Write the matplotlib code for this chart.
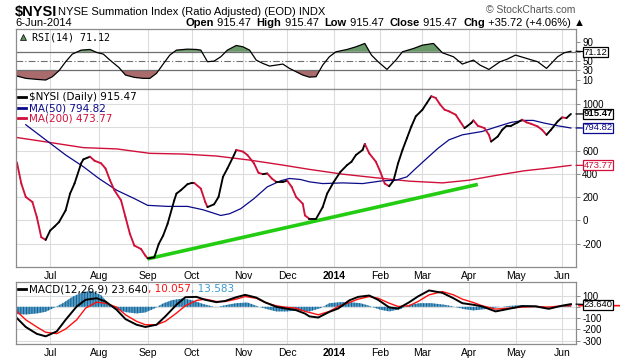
import numpy as np
import pandas as pd
import matplotlib
matplotlib.use("Agg")
import matplotlib.pyplot as plt
from matplotlib.collections import LineCollection

# trading calendar (sessions since 2013-06-10)
holidays = ["2013-07-04", "2013-09-02", "2013-11-28", "2013-12-25", "2014-01-01",
            "2014-01-20", "2014-02-17", "2014-04-18", "2014-05-26"]
sessions = pd.bdate_range("2013-06-10", "2014-06-06", freq="C", holidays=holidays)

# $NYSI daily values (session number, value)
nysi_day = [0, 2, 4, 7, 9, 11, 13, 15, 17, 19, 22, 24, 26, 29, 30, 33, 35, 38, 40, 42,
            44, 47, 49, 51, 53, 56, 58, 59, 62, 64, 66, 68, 71, 72, 74, 77, 79, 80, 83, 85,
            86, 89, 91, 93, 95, 98, 99, 102, 104, 107, 109, 111, 113, 115, 117, 120, 122, 124, 126, 129,
            130, 132, 135, 138, 140, 143, 146, 149, 151, 153, 156, 157, 159, 162, 164, 166, 168, 170, 172, 174,
            176, 178, 180, 183, 185, 187, 189, 191, 193, 195, 198, 200, 202, 205, 206, 208, 211, 213, 214, 217,
            219, 221, 223, 226, 228, 230, 232, 235, 237, 239, 241, 244, 246, 248, 250]
nysi_val = [499, 317, 202, 159, 29, -144, -167, -87, -52, -14, 87, 231, 317, 491, 525, 548, 514, 491, 447, 346,
            260, 173, 29, -115, -216, -245, -303, -326, -317, -202, -130, -29, 173, 231, 260, 312, 323, 323, 274, 159,
            115, 139, 202, 375, 447, 563, 606, 592, 563, 491, 410, 398, 404, 361, 332, 332, 341, 289, 202, 144,
            43, 14, 14, 115, 231, 332, 418, 476, 505, 563, 606, 658, 577, 505, 418, 317, 294, 346, 491, 606,
            707, 808, 895, 952, 1010, 1068, 1053, 996, 952, 938, 909, 851, 794, 837, 860, 814, 794, 736, 678, 722,
            779, 814, 814, 843, 866, 843, 831, 808, 779, 736, 779, 851, 886, 880, 915.47]

ma50_day = [4, 15, 22, 30, 37, 45, 53, 59, 68, 77, 84, 92, 96, 101, 107, 113, 119, 123, 128, 132,
            138, 147, 156, 165, 171, 176, 180, 185, 190, 195, 201, 210, 217, 223, 229, 233, 238, 244, 250]
ma50_val = [823, 664, 563, 462, 361, 260, 188, 130, 121, 121, 92, 43, 58, 101, 188, 289, 341, 361, 352, 332,
            317, 323, 317, 341, 346, 375, 447, 534, 620, 693, 736, 765, 808, 843, 860, 860, 837, 814, 794.82]

ma200_day = [0, 15, 30, 45, 60, 75, 90, 105, 120, 132, 147, 162, 177, 192, 204, 217, 229, 241, 250]
ma200_val = [713, 670, 626, 615, 577, 571, 554, 519, 476, 439, 398, 367, 338, 323, 346, 390, 427, 452, 473.77]

trend_day = [59, 208]
trend_val = [-330, 310]

rsi_day = [0, 4, 9, 13, 16, 19, 22, 25, 29, 33, 36, 39, 42, 46, 49, 53, 57, 60, 63, 66,
           69, 72, 77, 81, 83, 86, 89, 92, 95, 99, 102, 105, 108, 111, 114, 117, 120, 123, 126, 129,
           132, 135, 138, 141, 144, 149, 153, 157, 160, 163, 167, 171, 174, 179, 183, 188, 192, 197, 201, 206,
           209, 213, 218, 221, 225, 230, 235, 239, 244, 247, 250]
rsi_val = [17.9, 12.9, 10.7, 9.3, 16.4, 29.3, 48.6, 65, 73.6, 75, 68.6, 65, 52.1, 36.4, 20, 15, 12.9, 12.9, 23.6, 43.6,
           62.9, 73.6, 75.7, 75, 73.6, 48.6, 50, 59.3, 73.6, 83.6, 80.7, 73.6, 52.1, 45, 39.3, 41.4, 43.6, 34.3, 27.1, 20,
           15.5, 16.4, 41.4, 59.3, 70, 75, 80.7, 87.9, 62.9, 48.6, 32.1, 52.1, 70, 77.1, 84.3, 87.9, 67.9, 59.3, 43.6, 52.1,
           41.4, 32.1, 48.6, 53.6, 62.9, 55.7, 48.6, 34.3, 59.3, 67.9, 71.12]

macd_day = [0, 4, 9, 13, 18, 22, 27, 31, 36, 40, 45, 49, 54, 58, 63, 67, 72, 76, 81, 85,
            90, 94, 99, 103, 108, 112, 117, 121, 126, 130, 132, 136, 141, 145, 150, 154, 159, 163, 168, 172,
            177, 181, 186, 192, 197, 201, 206, 210, 216, 222, 228, 234, 240, 246, 250]
macd_val = [-100, -179, -240, -262, -218, -115, 3, 62, 76, 47, -26, -109, -159, -179, -159, -85, 18, 85, 88, 62,
            41, 52, 85, 106, 82, 40, 0, -14, -30, -60, -85, -95, -45, -15, 57, 88, 100, 62, -5, -16,
            40, 92, 145, 124, 76, 32, 18, 3, -41, -18, 6, 4, -18, 10, 23.64]
signal_val = [-41, -115, -179, -226, -238, -197, -115, -12, 41, 32, -3, -71, -129, -159, -159, -129, -56, 9, 56, 68,
              47, 47, 68, 91, 76, 38, 9, -3, -12, -41, -50, -71, -41, 3, 38, 68, 91, 76, 32, 3,
              9, 47, 106, 135, 106, 68, 38, 9, -21, -12, -3, 3, -3, 9, 10.057]

hist_day = [0, 4, 9, 13, 17, 21, 25, 30, 34, 38, 42, 45, 49, 54, 58, 62, 66, 70, 75, 79,
            84, 88, 90, 95, 99, 104, 108, 113, 117, 122, 126, 132, 137, 141, 146, 150, 155, 159, 164, 168,
            173, 177, 182, 187, 193, 197, 202, 206, 211, 217, 223, 229, 235, 241, 247, 250]
hist_val = [-65, -68, -59, -44, -6, 35, 88, 133, 139, 103, 15, -24, -47, -59, -50, -15, 30, 59, 74, 59,
            25, 5, -3, 18, 32, 38, 9, -21, -41, -41, -32, -41, -12, 32, 41, 41, 32, 9, -26, -41,
            -21, 18, 32, 32, 18, 3, -21, -32, -21, -3, 9, 15, 9, -6, 15, 13.583]

# month ticks
per = sessions.to_period("M")
first = np.r_[True, per[1:] != per[:-1]]
tick_days = np.flatnonzero(first)[1:]
tick_labels = ["2014" if sessions[d].month == 1 else sessions[d].strftime("%b") for d in tick_days]

RED = "#d0103a"
NAVY = "#0a0a8a"
GRID = "#dcdcdc"
EDGE = "#8c8c8c"
SANS = ["Liberation Sans", "DejaVu Sans"]

fig = plt.figure(figsize=(6.2, 3.6), dpi=100)
W, H = 620, 360

def add_panel(top, bottom):
    ax = fig.add_axes([16 / W, 1 - bottom / H, 560 / W, (bottom - top) / H])
    ax.set_xlim(-0.4, 252.3)
    for s in ax.spines.values():
        s.set_color(EDGE)
        s.set_linewidth(0.9)
    ax.set_xticks(tick_days)
    ax.grid(axis="x", color=GRID, lw=0.8)
    ax.yaxis.tick_right()
    ax.tick_params(axis="y", length=3, width=0.7, color=EDGE, pad=1.5, labelsize=7)
    ax.tick_params(axis="x", length=0, pad=3, labelsize=7.5)
    ax.set_axisbelow(True)
    return ax

def y_labels(ax, ticks, shown):
    ax.set_yticks(ticks)
    ax.set_yticklabels([str(t) if t in shown else "" for t in ticks], family=SANS)

def month_labels(ax):
    ax.set_xticklabels(tick_labels, family=SANS)
    for lab in ax.get_xticklabels():
        if lab.get_text() == "2014":
            lab.set_fontweight("bold")

def tag(ax, y, text, color, bold=False, dy=0):
    ax.annotate(text, xy=(1, y), xycoords=("axes fraction", "data"),
                xytext=(5.5, dy), textcoords="offset points", ha="left", va="center",
                fontsize=6.8, family=SANS, color=color, fontweight="bold" if bold else "normal",
                bbox=dict(boxstyle="square,pad=0.05", fc="white", ec=color, lw=0.9),
                arrowprops=dict(arrowstyle="-", color=color, lw=0.9, shrinkA=0, shrinkB=0),
                annotation_clip=False, zorder=20)

def run_text(ax, x, y, pieces, size, family, transform=None):
    r = fig.canvas.get_renderer()
    tr = transform or ax.transAxes
    px, py = tr.transform((x, y))
    for txt, col, wt in pieces:
        t = fig.text(px / fig.bbox.width, py / fig.bbox.height, txt, color=col, fontweight=wt,
                     fontsize=size, family=family, va="center", ha="left")
        px += t.get_window_extent(r).width

# ---- RSI panel
ax_rsi = add_panel(29, 89)
ax_rsi.set_ylim(-10, 119)
y_labels(ax_rsi, [10, 30, 50, 70, 90], [10, 30, 50, 90])
ax_rsi.set_xticklabels([])
r_d = np.array(rsi_day)
r_v = np.array(rsi_val)
ax_rsi.fill_between(r_d, r_v, 70, where=r_v > 70, interpolate=True, color="#6a9a6a", lw=0)
ax_rsi.fill_between(r_d, r_v, 30, where=r_v < 30, interpolate=True, color="#a96b6b", lw=0)
ax_rsi.axhline(70, color="#6e6e6e", lw=0.9)
ax_rsi.axhline(30, color="#6e6e6e", lw=0.9)
ax_rsi.axhline(50, color="#6e6e6e", lw=0.8, ls=(0, (6, 2, 1, 2)))
ax_rsi.plot(r_d, r_v, color="black", lw=0.9)
tag(ax_rsi, 71.12, "71.12", "black", dy=-0.6)
ax_rsi.plot([0.012], [0.86], marker="^", ms=5, color="#5c8f5c", mec="black", mew=0.5,
            transform=ax_rsi.transAxes, clip_on=False)
ax_rsi.text(0.028, 0.86, "RSI(14) 71.12", transform=ax_rsi.transAxes, va="center",
            fontsize=7.2, family="DejaVu Sans Mono")

# ---- main panel
ax = add_panel(89, 267)
ax.set_ylim(-400, 1130)
y_labels(ax, list(range(-200, 1001, 200)), [-200, 0, 200, 400, 600, 1000])
ax.grid(axis="y", color=GRID, lw=0.8)
month_labels(ax)
ax.plot(ma200_day, ma200_val, color=RED, lw=1.0)
ax.plot(ma50_day, ma50_val, color=NAVY, lw=0.9)
ax.plot(trend_day, trend_val, color="#22cc11", lw=2.6, solid_capstyle="butt")
pts = np.column_stack([nysi_day, nysi_val])
segs = np.stack([pts[:-1], pts[1:]], axis=1)
cols = ["black" if b >= a else RED for a, b in zip(nysi_val[:-1], nysi_val[1:])]
ax.add_collection(LineCollection(segs, colors=cols, lw=1.35, capstyle="round", joinstyle="round"))
tag(ax, 915.47, "915.47", "black", bold=True)
tag(ax, 794.82, "794.82", NAVY)
tag(ax, 473.77, "473.77", RED)

legend_rows = [("$NYSI (Daily) 915.47", "black", 0.953),
               ("MA(50) 794.82", NAVY, 0.893),
               ("MA(200) 473.77", RED, 0.835)]
for txt, col, yy in legend_rows:
    ax.plot([0.004, 0.017], [yy, yy], color=col, lw=2, transform=ax.transAxes, clip_on=False)
    ax.text(0.024, yy, txt, transform=ax.transAxes, va="center", fontsize=7.5, color=col)

# ---- MACD panel
ax_m = add_panel(282, 344)
ax_m.set_ylim(-330, 220)
y_labels(ax_m, [100, 0, -100, -200, -300], [100, -100, -200, -300])
ax_m.grid(axis="y", color=GRID, lw=0.8)
month_labels(ax_m)
plt.rcParams["hatch.color"] = "#1c5478"
plt.rcParams["hatch.linewidth"] = 0.6
ax_m.fill_between(hist_day, hist_val, 0, facecolor="#4b9ccb", edgecolor="#1c5478",
                  hatch="||||||", lw=0)
ax_m.plot(macd_day, signal_val, color="#ff1010", lw=1.0)
ax_m.plot(macd_day, macd_val, color="black", lw=1.4)
ax_m.annotate("", xy=(1, 10.057), xycoords=("axes fraction", "data"), xytext=(1.09, 10.057),
              textcoords=("axes fraction", "data"),
              arrowprops=dict(arrowstyle="-", color="#ff1010", lw=1.2), annotation_clip=False)
tag(ax_m, 23.64, "23.640", "black", dy=-0.6)
ax_m.plot([0.004, 0.017], [0.88, 0.88], color="black", lw=2, transform=ax_m.transAxes, clip_on=False)
run_text(ax_m, 0.024, 0.88, [("MACD(12,26,9) 23.640", "black", "normal"),
                             (", 10.057", "#ff1010", "normal"),
                             (", 13.583", "#3a9ad0", "normal")], 7.5, "DejaVu Sans")

# ---- header
fig.text(15 / W, 1 - 12 / H, "$NYSI", fontsize=10.5, fontweight="bold", family=SANS, va="center")
fig.text(58 / W, 1 - 12 / H, "NYSE Summation Index (Ratio Adjusted) (EOD) INDX", fontsize=8,
         family=SANS, va="center")
fig.text(15 / W, 1 - 23 / H, "6-Jun-2014", fontsize=8, family=SANS, va="center")
fig.text(575 / W, 1 - 10 / H, "\u00a9 StockCharts.com", fontsize=7.5, family=SANS, color="#555555",
         va="center", ha="right")
hdr = [("Open", "black", "bold"), (" 915.47  ", "black", "normal"),
       ("High", "black", "bold"), (" 915.47  ", "black", "normal"),
       ("Low", "black", "bold"), (" 915.47  ", "black", "normal"),
       ("Close", "black", "bold"), (" 915.47  ", "black", "normal"),
       ("Chg", "black", "bold"), (" +35.72 (+4.06%) \u25b2", "black", "normal")]
run_text(ax, 185 / W, 1 - 23 / H, hdr, 8, SANS, transform=fig.transFigure)

fig.savefig("out.png", dpi=100)
